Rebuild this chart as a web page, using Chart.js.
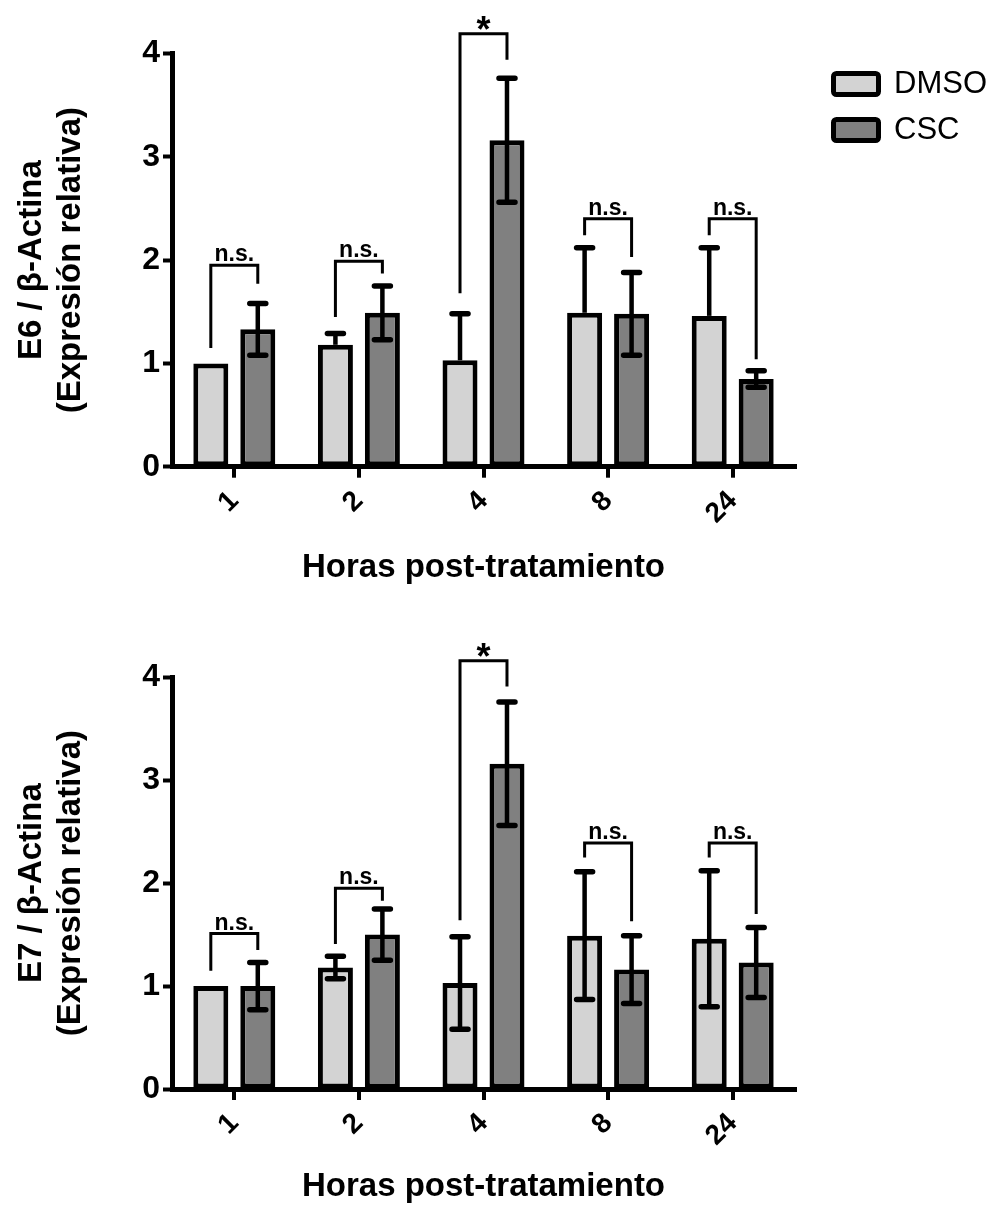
<!DOCTYPE html>
<html><head><meta charset="utf-8">
<script src="https://cdn.jsdelivr.net/npm/chart.js@4.4.1/dist/chart.umd.min.js"></script>
<style>
html,body{margin:0;padding:0;background:#fff;}
#c1{position:absolute;left:0;top:0;}
#c2{position:absolute;left:0;top:615px;}
</style></head><body>
<canvas id="c1" width="1003" height="615"></canvas>
<canvas id="c2" width="1003" height="594"></canvas>
<script>
// ---------- data ----------
const categories = ['1', '2', '4', '8', '24'];
const seriesNames = ['DMSO', 'CSC'];
const yTicks = [0, 1, 2, 3, 4];

// E6 panel
const e6Dmso    = [1.00, 1.18, 1.03, 1.49, 1.46];
const e6DmsoErr = [0.00, 0.11, 0.45, 0.63, 0.66];
const e6Csc     = [1.33, 1.49, 3.16, 1.48, 0.85];
const e6CscErr  = [0.25, 0.26, 0.60, 0.40, 0.08];
const e6BracketTop   = [1.95, 1.99, 4.19, 2.40, 2.40];
const e6BracketLeft  = [1.15, 1.45, 1.68, 2.24, 2.24];
const e6BracketRight = [1.77, 1.87, 3.94, 2.03, 1.04];
const e6BracketLabel = ['n.s.', 'n.s.', '*', 'n.s.', 'n.s.'];

// E7 panel
const e7Dmso    = [1.00, 1.18, 1.03, 1.49, 1.46];
const e7DmsoErr = [0.00, 0.11, 0.45, 0.62, 0.66];
const e7Csc     = [1.00, 1.50, 3.16, 1.16, 1.23];
const e7CscErr  = [0.23, 0.25, 0.60, 0.33, 0.34];
const e7BracketTop   = [1.51, 1.95, 4.16, 2.39, 2.39];
const e7BracketLeft  = [1.15, 1.41, 1.64, 2.25, 2.25];
const e7BracketRight = [1.35, 1.83, 3.91, 1.63, 1.70];
const e7BracketLabel = ['n.s.', 'n.s.', '*', 'n.s.', 'n.s.'];

// ---------- style ----------
const FONT = '"Liberation Sans", Arial, Helvetica, sans-serif';
Chart.defaults.font.family = FONT;
Chart.defaults.color = '#000';
const COL_DMSO = '#d3d3d3';
const COL_CSC = '#808080';
const PAD_R_LEGEND = 6;
const PLOT_RIGHT = 795;

const overlayPlugin = {
  id: 'overlay',
  afterDatasetsDraw(chart, args, opts) {
    const ctx = chart.ctx;
    const ys = chart.scales.y;
    ctx.save();
    ctx.strokeStyle = '#000';
    // error bars
    opts.errors.forEach((errs, di) => {
      const meta = chart.getDatasetMeta(di);
      const vals = chart.data.datasets[di].data;
      meta.data.forEach((bar, i) => {
        const e = errs[i];
        if (!e) return;
        const x = bar.x;
        const yTop = ys.getPixelForValue(vals[i] + e);
        const both = opts.directions[di] === 'both';
        const yBot = ys.getPixelForValue(both ? vals[i] - e : vals[i]);
        ctx.lineWidth = 4.5;
        ctx.lineCap = 'butt';
        ctx.beginPath();
        ctx.moveTo(x, yTop);
        ctx.lineTo(x, yBot);
        ctx.stroke();
        ctx.lineWidth = 5.5;
        ctx.lineCap = 'round';
        ctx.beginPath();
        ctx.moveTo(x - 8, yTop); ctx.lineTo(x + 8, yTop);
        if (both) { ctx.moveTo(x - 8, yBot); ctx.lineTo(x + 8, yBot); }
        ctx.stroke();
      });
    });
    // significance brackets
    const m0 = chart.getDatasetMeta(0), m1 = chart.getDatasetMeta(1);
    const b = opts.brackets;
    b.top.forEach((t, i) => {
      const xl = m0.data[i].x, xr = m1.data[i].x;
      const yt = ys.getPixelForValue(t);
      const yl = ys.getPixelForValue(b.left[i]);
      const yr = ys.getPixelForValue(b.right[i]);
      ctx.lineWidth = 3;
      ctx.lineCap = 'butt';
      ctx.lineJoin = 'miter';
      ctx.beginPath();
      ctx.moveTo(xl, yl); ctx.lineTo(xl, yt); ctx.lineTo(xr, yt); ctx.lineTo(xr, yr);
      ctx.stroke();
      ctx.fillStyle = '#000';
      ctx.textAlign = 'center';
      ctx.textBaseline = 'alphabetic';
      const lab = b.labels[i];
      if (lab === '*') {
        ctx.font = 'bold 36px ' + FONT;
        ctx.fillText(lab, (xl + xr) / 2, yt + 8);
      } else {
        ctx.font = 'bold 23px ' + FONT;
        ctx.fillText(lab, (xl + xr) / 2, yt - 4);
      }
    });
    ctx.restore();
  }
};

function buildChart(id, p) {
  const scales = {
    x: {
      offset: true,
      grid: { display: true, drawOnChartArea: false, drawTicks: true, offset: false,
              tickLength: 11, tickWidth: 4, tickColor: '#000', lineWidth: 4, color: '#000' },
      border: { display: true, width: 5, color: '#000' },
      ticks: { font: { size: 28, weight: 'bold' }, minRotation: 45, maxRotation: 45,
               autoSkip: false, padding: 7, color: '#000' },
      title: { display: true, text: 'Horas post-tratamiento', color: '#000',
               font: { size: 33, weight: 'bold' }, padding: { top: 0, bottom: p.xTitlePad } },
      afterFit(s) { s.height = p.xHeight; }
    },
    y: {
      min: 0, max: 4,
      afterBuildTicks(s) { s.ticks = yTicks.map(v => ({ value: v })); },
      ticks: { font: { size: 32, weight: 'bold' }, padding: 3, color: '#000' },
      grid: { display: true, drawOnChartArea: false, drawTicks: true,
              tickLength: 9, tickWidth: 4, tickColor: '#000', color: '#000' },
      border: { display: true, width: 5, color: '#000' },
      title: { display: true, text: p.yTitle, color: '#000',
               font: { size: 33, weight: 'bold' }, padding: { top: 12, bottom: 0 } },
      afterFit(s) { s.width = 172; }
    }
  };
  if (p.legend) {
    scales.spacer = {
      type: 'linear', position: 'right', display: true,
      grid: { display: false }, border: { display: false }, ticks: { display: false },
      afterFit(s) {
        s.width = Math.max(0, s.chart.width - PAD_R_LEGEND - s.chart.legend.width - PLOT_RIGHT);
      }
    };
  }
  return new Chart(document.getElementById(id), {
    type: 'bar',
    data: {
      labels: categories,
      datasets: [
        { label: seriesNames[0], data: p.dmso, backgroundColor: COL_DMSO, borderColor: '#000',
          borderWidth: 5, borderSkipped: false, categoryPercentage: 0.754, barPercentage: 0.745 },
        { label: seriesNames[1], data: p.csc, backgroundColor: COL_CSC, borderColor: '#000',
          borderWidth: 5, borderSkipped: false, categoryPercentage: 0.754, barPercentage: 0.745 }
      ]
    },
    options: {
      responsive: false,
      animation: false,
      devicePixelRatio: 1,
      layout: { padding: { top: p.padTop, right: p.legend ? PAD_R_LEGEND : 1003 - PLOT_RIGHT, bottom: 0, left: 0 } },
      scales,
      plugins: {
        tooltip: { enabled: false },
        legend: {
          display: p.legend, position: 'right', align: 'start', maxWidth: 400,
          labels: { boxWidth: 45, boxHeight: 21, padding: 15, color: '#000',
                    font: { size: 31, weight: 'normal' }, useBorderRadius: true, borderRadius: 3 }
        },
        overlay: {
          errors: [p.dmsoErr, p.cscErr],
          directions: p.dirs,
          brackets: p.brackets
        }
      }
    },
    plugins: [overlayPlugin]
  });
}

buildChart('c1', {
  dmso: e6Dmso, csc: e6Csc, dmsoErr: e6DmsoErr, cscErr: e6CscErr,
  dirs: ['up', 'both'],
  brackets: { top: e6BracketTop, left: e6BracketLeft, right: e6BracketRight, labels: e6BracketLabel },
  yTitle: ['E6 / β-Actina', '(Expresión relativa)'],
  legend: true, padTop: 53.5, xHeight: 148.3, xTitlePad: 27
});
buildChart('c2', {
  dmso: e7Dmso, csc: e7Csc, dmsoErr: e7DmsoErr, cscErr: e7CscErr,
  dirs: ['both', 'both'],
  brackets: { top: e7BracketTop, left: e7BracketLeft, right: e7BracketRight, labels: e7BracketLabel },
  yTitle: ['E7 / β-Actina', '(Expresión relativa)'],
  legend: false, padTop: 62.3, xHeight: 120, xTitlePad: 2
});
</script>
</body></html>
